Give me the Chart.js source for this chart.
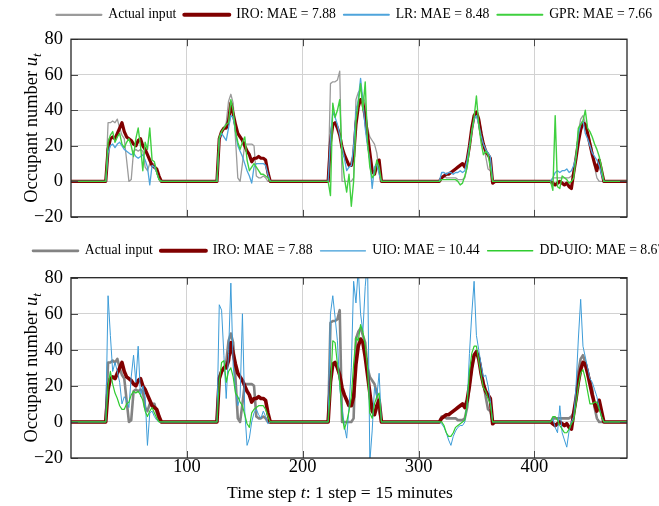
<!DOCTYPE html>
<html><head><meta charset="utf-8">
<script src="https://cdn.jsdelivr.net/npm/chart.js@4.4.1/dist/chart.umd.min.js"></script>
<style>
html,body{margin:0;padding:0;background:#fff;overflow:hidden;width:659px;height:506px;position:relative;}
canvas{position:absolute;left:0;}
#c1{top:0;}
#c2{top:236px;}
</style></head><body>
<canvas id="c1" width="660" height="236"></canvas>
<canvas id="c2" width="720" height="270"></canvas>
<script>
// ---- data ----
const dayStarts = [0, 96, 192, 288, 384];
const stepOffsets = [28,30,32,34,36,38,40,42,44,46,48,50,52,54,56,58,60,62,64,66,68,70,72,74,76,78,80];
const xTicks = [100, 200, 300, 400];
const yTicks = [-20, 0, 20, 40, 60, 80];

const actualInput = [
  [0,0,33,33,34,33,35,30,26,24,12,0,1,17,18,17,18,17,8,6,10,10,10,5,1,0,0],
  [0,0,25,28,30,33,45,49,44,24,2,0,10,21,21,21,21,20,3,2,2,3,2,0,0,0,0],
  [0,0,55,56,56,57,62,0,0,0,0,0,2,46,50,52,48,44,30,25,23,21,16,6,0,0,0],
  [0,0,3,3,2,2,2,2,2,1,1,1,2,8,20,30,37,38,36,30,22,14,7,6,0,0,0],
  [0,0,2,2,2,2,2,2,2,2,3,5,12,28,35,37,33,28,23,18,8,2,0,0,0,0,0]
];
const iro = [
  [0,0,18,24,25,24,27,30,33,28,25,24,23,21,20,23,24,20,18,15,12,9,8,7,3,0,0],
  [0,0,24,28,30,30,34,44,38,32,27,25,23,20,17,15,11,13,13,14,13,13,12,5,0,0,0],
  [0,0,22,32,33,30,26,19,15,12,9,9,14,32,42,46,44,36,26,16,6,4,9,12,0,0,0],
  [0,0,2,3,4,4,5,6,7,8,9,10,8,12,20,30,37,39,35,27,21,17,15,13,-1,0,0],
  [0,0,-1,-2,-1,0,-1,-2,-1,-3,-4,5,13,22,29,33,32,27,21,15,10,6,12,6,0,0,0]
];
const lr = [
  [0,0,16,20,21,19,21,22,20,18,17,16,15,16,14,13,14,15,12,8,-2,9,8,5,1,0,0],
  [0,0,24,27,25,23,30,37,36,28,20,17,14,10,6,3,-1,8,10,10,10,10,9,4,0,0,0],
  [0,0,25,39,36,32,26,19,13,6,8,9,20,39,46,58,45,30,20,12,-4,8,10,4,0,0,0],
  [0,0,5,5,4,5,5,4,5,5,6,5,6,12,20,28,35,37,32,26,21,18,16,14,0,0,0],
  [0,0,2,5,6,5,6,6,7,5,6,9,14,26,32,34,27,24,20,16,14,12,9,4,0,0,0]
];
const gpr = [
  [0,0,22,26,28,22,25,27,21,19,22,24,20,14,24,30,20,6,22,18,30,12,11,5,1,0,0],
  [0,0,25,28,30,32,33,46,40,28,22,18,22,25,12,6,8,10,8,6,4,4,3,2,0,0,0],
  [0,0,-8,44,36,40,46,14,2,-6,4,-14,0,34,44,55,40,56,22,8,2,4,12,8,0,0,0],
  [0,0,1,1,1,1,1,1,1,0,-2,-1,3,8,18,28,36,48,32,22,15,17,15,8,0,0,0],
  [0,0,-5,37,-3,-4,3,2,1,-1,0,2,14,30,32,34,40,30,28,25,21,18,14,8,0,0,0]
];
const uio = [
  [0,0,70,48,28,33,28,22,10,14,12,8,25,37,22,42,14,20,14,-13,5,6,3,1,0,0,0],
  [0,0,65,62,37,13,38,77,31,18,9,14,60,6,-13,-9,0,5,7,4,2,6,3,-1,0,0,0],
  [0,0,60,70,58,45,19,8,-2,-9,8,30,78,66,85,60,50,75,90,-22,-5,19,14,27,0,0,0],
  [0,0,-1,-3,-6,-10,-13,-8,-5,-3,-2,-2,0,10,38,60,78,48,40,32,25,26,20,12,0,0,0],
  [0,0,2,-3,-6,9,-6,-10,-14,-5,0,3,20,46,68,42,36,30,24,22,18,14,8,3,0,0,0]
];
const ddUio = [
  [0,0,20,28,21,16,13,9,7,7,10,11,15,17,16,17,15,12,6,3,6,8,5,2,0,0,0],
  [0,0,22,33,34,22,28,30,25,16,14,11,9,4,-1,-3,5,7,8,9,9,9,7,3,0,0,0],
  [0,0,18,45,44,32,22,4,-4,0,6,14,32,47,45,54,50,42,30,5,2,10,14,16,0,0,0],
  [0,0,0,-2,-6,-8,-8,-6,-3,-2,-1,0,1,10,28,38,42,42,34,26,19,17,13,10,0,0,0],
  [0,0,3,3,1,-2,-4,-6,-6,-4,-1,1,10,20,27,29,24,17,10,10,11,11,7,3,0,0,0]
];
const topLabels = ['Actual input', 'IRO: MAE = 7.88', 'LR: MAE = 8.48', 'GPR: MAE = 7.66'];
const bottomLabels = ['Actual input', 'IRO: MAE = 7.88', 'UIO: MAE = 10.44', 'DD-UIO: MAE = 8.67'];

// ---- helpers ----
function toPoints(days) {
  const pts = [{x: 0, y: 0}];
  days.forEach((vals, k) => vals.forEach((v, i) => pts.push({x: dayStarts[k] + stepOffsets[i], y: v})));
  pts.push({x: 480, y: 0});
  return pts;
}
const SERIF = '"Liberation Serif", "Times New Roman", serif';

function ds(label, data, color, width, legendWidth, order) {
  return {label, data: toPoints(data), borderColor: color, backgroundColor: color,
    borderWidth: width, legendWidth, order, pointRadius: 0, tension: 0,
    borderJoinStyle: 'round', clip: 0};
}

const framePlugin = {
  id: 'frame',
  afterDatasetsDraw(chart, args, opts) {
    const {ctx, chartArea: a, scales} = chart;
    ctx.save();
    ctx.strokeStyle = '#4a4a4a';
    ctx.lineWidth = 1;
    const L = 7;
    ctx.beginPath();
    xTicks.forEach(v => {
      const px = Math.round(scales.x.getPixelForValue(v)) + 0.5;
      ctx.moveTo(px, a.top); ctx.lineTo(px, a.top + L);
      ctx.moveTo(px, a.bottom); ctx.lineTo(px, a.bottom - L);
    });
    yTicks.forEach(v => {
      const py = Math.round(scales.y.getPixelForValue(v)) + 0.5;
      ctx.moveTo(a.left, py); ctx.lineTo(a.left + L, py);
      ctx.moveTo(a.right, py); ctx.lineTo(a.right - L, py);
    });
    ctx.stroke();
    ctx.strokeStyle = '#262626';
    ctx.lineWidth = 1.3;
    ctx.strokeRect(a.left, a.top, a.right - a.left, a.bottom - a.top);

    // y axis title: Occupant number u_t
    const size = opts.titleSize;
    ctx.fillStyle = '#000';
    ctx.save();
    ctx.translate(opts.yTitleX, (a.top + a.bottom) / 2);
    ctx.rotate(-Math.PI / 2);
    const f1 = size + 'px ' + SERIF, f2 = 'italic ' + size + 'px ' + SERIF, f3 = 'italic ' + (size * 0.7) + 'px ' + SERIF;
    ctx.font = f1; const w1 = ctx.measureText('Occupant number ').width;
    ctx.font = f2; const w2 = ctx.measureText('u').width;
    ctx.font = f3; const w3 = ctx.measureText('t').width;
    let x = -(w1 + w2 + w3) / 2;
    const base = size * 0.33;
    ctx.textBaseline = 'alphabetic';
    ctx.textAlign = 'left';
    ctx.font = f1; ctx.fillText('Occupant number ', x, base); x += w1;
    ctx.font = f2; ctx.fillText('u', x, base); x += w2;
    ctx.font = f3; ctx.fillText('t', x, base + size * 0.22);
    ctx.restore();

    if (opts.xTitle) {
      const p1 = 'Time step ', p2 = 't', p3 = ': 1 step = 15 minutes';
      const s = opts.xTitleSize;
      const g1 = s + 'px ' + SERIF, g2 = 'italic ' + s + 'px ' + SERIF;
      ctx.font = g1; const a1 = ctx.measureText(p1).width, a3 = ctx.measureText(p3).width;
      ctx.font = g2; const a2 = ctx.measureText(p2).width;
      let xx = (a.left + a.right) / 2 + opts.xTitleShift - (a1 + a2 + a3) / 2;
      const yy = opts.xTitleY;
      ctx.textBaseline = 'alphabetic';
      ctx.font = g1; ctx.fillText(p1, xx, yy); xx += a1;
      ctx.font = g2; ctx.fillText(p2, xx, yy); xx += a2;
      ctx.font = g1; ctx.fillText(p3, xx, yy);
    }
    ctx.restore();
  }
};

function makeChart(canvasId, datasets, cfg) {
  return new Chart(document.getElementById(canvasId), {
    type: 'line',
    data: {datasets},
    plugins: [framePlugin],
    options: {
      responsive: false, animation: false, devicePixelRatio: 1, events: [],
      layout: {padding: {left: cfg.padLeft, right: 0, top: 0, bottom: 0}},
      scales: {
        x: {
          type: 'linear', position: 'bottom', min: 0, max: 480,
          afterBuildTicks: s => { s.ticks = xTicks.map(v => ({value: v})); },
          afterFit: s => { s.height = cfg.xAxisHeight; },
          grid: {color: '#d2d2d2', lineWidth: 1, drawTicks: false},
          border: {display: false},
          ticks: {display: cfg.showXTicks, color: '#000', padding: cfg.xTickPad,
            font: {family: SERIF, size: 18.5, lineHeight: 1}}
        },
        xTop: {
          type: 'linear', position: 'top', display: true,
          afterFit: s => { s.height = cfg.topGap; },
          grid: {display: false}, border: {display: false}, ticks: {display: false}
        },
        y: {
          type: 'linear', position: 'left', min: -20, max: 80,
          afterBuildTicks: s => { s.ticks = yTicks.map(v => ({value: v})); },
          afterFit: s => { s.width = 71 - cfg.padLeft; },
          grid: {color: '#d2d2d2', lineWidth: 1, drawTicks: false},
          border: {display: false},
          ticks: {color: '#000', padding: 8, font: {family: SERIF, size: 18.5},
            callback: v => v < 0 ? '\u2212' + (-v) : String(v)}
        },
        yRight: {
          type: 'linear', position: 'right', display: true,
          afterFit: s => { s.width = cfg.canvasWidth - 627; },
          grid: {display: false}, border: {display: false}, ticks: {display: false}
        }
      },
      plugins: {
        tooltip: {enabled: false},
        legend: {
          display: true, position: 'top', align: cfg.legendAlign,
          labels: {
            boxWidth: 45, boxHeight: 0, padding: 8, color: '#000',
            font: {family: SERIF, size: 13.7},
            sort: (a, b) => a.datasetIndex - b.datasetIndex,
            generateLabels: chart => Chart.defaults.plugins.legend.labels.generateLabels(chart).map(it => {
              it.lineWidth = chart.data.datasets[it.datasetIndex].legendWidth;
              it.lineCap = 'butt';
              return it;
            })
          }
        },
        frame: cfg.frame
      }
    }
  });
}

makeChart('c1', [
  ds(topLabels[0], actualInput, '#9b9b9b', 1.3, 2.2, 4),
  ds(topLabels[1], iro, '#800000', 3.2, 4, 3),
  ds(topLabels[2], lr, '#4ea4db', 1.3, 2, 2),
  ds(topLabels[3], gpr, '#3fd03f', 1.4, 2, 1)
], {canvasWidth: 660, legendAlign: 'end', padLeft: 20, xAxisHeight: 18, topGap: 7.5, showXTicks: false, xTickPad: 0,
    frame: {titleSize: 18.5, yTitleX: 31, xTitle: false}});

makeChart('c2', [
  ds(bottomLabels[0], actualInput, '#838383', 2.6, 2.6, 4),
  ds(bottomLabels[1], iro, '#800000', 3.6, 4, 3),
  ds(bottomLabels[2], uio, '#3d9cd8', 1.0, 1.3, 2),
  ds(bottomLabels[3], ddUio, '#30cc30', 1.2, 1.5, 1)
], {canvasWidth: 720, legendAlign: 'start', padLeft: 25, xAxisHeight: 48, topGap: 10, showXTicks: true, xTickPad: 0,
    frame: {titleSize: 18.5, yTitleX: 31, xTitle: true, xTitleSize: 17.6, xTitleY: 262, xTitleShift: -9}});
</script>
</body></html>
